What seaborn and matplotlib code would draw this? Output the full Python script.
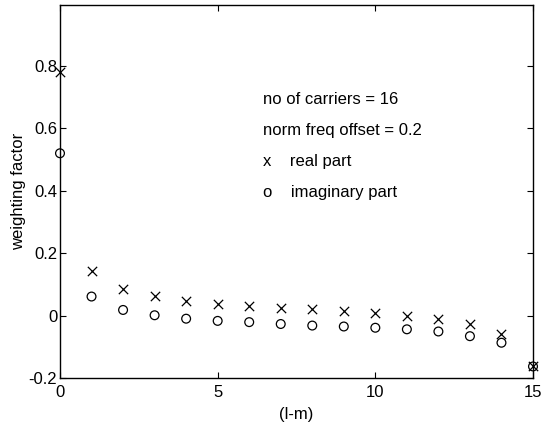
import numpy as np
import pandas as pd
import matplotlib
matplotlib.use("Agg")
import matplotlib.pyplot as plt
import seaborn as sns

# data
lag = list(range(16))
real_part = [0.78, 0.143, 0.085, 0.063, 0.048, 0.038, 0.031, 0.024, 0.020, 0.014,
             0.008, 0.000, -0.012, -0.028, -0.058, -0.163]
imag_part = [0.52, 0.061, 0.018, 0.001, -0.010, -0.017, -0.021, -0.027, -0.032, -0.035,
             -0.039, -0.044, -0.051, -0.066, -0.087, -0.163]
x_ticks = [0, 5, 10, 15]
y_ticks = [-0.2, 0, 0.2, 0.4, 0.6, 0.8]
y_tick_labels = ["-0.2", "0", "0.2", "0.4", "0.6", "0.8"]
annotations = ["no of carriers = 16", "norm freq offset = 0.2", "x    real part", "o    imaginary part"]

sns.set_theme(style="white")
plt.rcParams['font.family'] = ['Liberation Sans', 'DejaVu Sans']

df_real = pd.DataFrame({"lag": lag, "value": real_part})
df_imag = pd.DataFrame({"lag": lag, "value": imag_part})

fig = plt.figure(figsize=(5.45, 4.25), dpi=100)
ax = fig.add_axes([60/545, 47/425, 473/545, 373/425])

sns.scatterplot(data=df_real, x="lag", y="value", marker="x", color="black",
                s=45, linewidth=0.9, ax=ax, legend=False, clip_on=False)
sns.scatterplot(data=df_imag, x="lag", y="value", marker="o", facecolors="none",
                edgecolor="black", s=40, linewidth=0.9, ax=ax, legend=False, clip_on=False)

ax.set_xlim(0, 15)
ax.set_ylim(-0.2, 0.995)
ax.set_xticks(x_ticks)
ax.set_xticklabels([str(t) for t in x_ticks])
ax.set_yticks(y_ticks)
ax.set_yticklabels(y_tick_labels)
ax.tick_params(direction="in", length=4, width=0.8, top=True, right=True,
               bottom=True, left=True, labelsize=12, colors="black", pad=2)
ax.tick_params(axis="x", pad=5)
for sp in ax.spines.values():
    sp.set_color("black")
    sp.set_linewidth(1.0)

ax.set_xlabel("(l-m)", fontsize=12, labelpad=5, color="black")
ax.set_ylabel("weighting factor", fontsize=12, labelpad=2, color="black")

ys = [0.692, 0.593, 0.494, 0.394]
for t, yv in zip(annotations, ys):
    ax.text(6.44, yv, t, fontsize=12, va="center", ha="left", color="black")

fig.savefig("out.png", dpi=100)
